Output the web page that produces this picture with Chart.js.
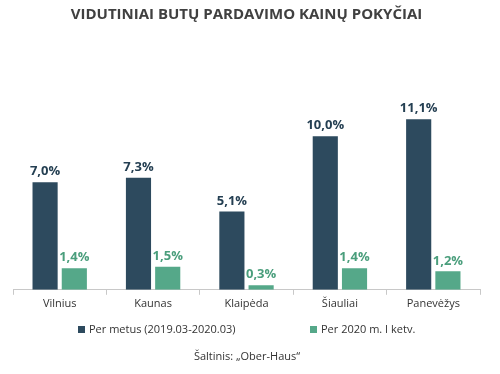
<!DOCTYPE html>
<html><head><meta charset="utf-8">
<script src="https://cdn.jsdelivr.net/npm/chart.js@4/dist/chart.umd.min.js"></script>
<style>html,body{margin:0;padding:0;background:#fff}#w{width:500px;height:374px}</style>
</head><body><div id="w"><canvas id="c" width="500" height="374"></canvas></div>
<script>
const categories = ["Vilnius", "Kaunas", "Klaipėda", "Šiauliai", "Panevėžys"];
const perMetus = [7.0, 7.3, 5.1, 10.0, 11.1];
const per2020 = [1.4, 1.5, 0.3, 1.4, 1.2];
const seriesNames = ["Per metus (2019.03-2020.03)", "Per 2020 m. I ketv."];
const titleText = "VIDUTINIAI BUTŲ PARDAVIMO KAINŲ POKYČIAI";
const sourceText = "Šaltinis: „Ober-Haus“";

const FONT = "'Open Sans', 'Noto Sans', sans-serif";
const barColors = ["#2d4a5e", "#55a889"];
const labelColors = ["#243f52", "#4a9e7c"];

const labelPlugin = {
  id: 'vlabels',
  afterDatasetsDraw(chart) {
    const ctx = chart.ctx;
    ctx.save();
    ctx.font = "bold 13px " + FONT;
    ctx.textAlign = 'center';
    ctx.textBaseline = 'bottom';
    chart.data.datasets.forEach((ds, i) => {
      const meta = chart.getDatasetMeta(i);
      ctx.fillStyle = labelColors[i];
      meta.data.forEach((bar, j) => {
        const txt = ds.data[j].toFixed(1).replace('.', ',') + '%';
        ctx.fillText(txt, bar.x, bar.y - 4);
      });
    });
    ctx.restore();
  }
};

const footerPlugin = {
  id: 'footerLegend',
  afterDraw(chart) {
    const ctx = chart.ctx;
    ctx.save();
    ctx.font = "11px " + FONT;
    ctx.textBaseline = 'middle';
    ctx.textAlign = 'left';
    const xs = [78, 310];
    chart.data.datasets.forEach((ds, i) => {
      ctx.fillStyle = ds.backgroundColor;
      ctx.fillRect(xs[i], 326, 7, 7);
      ctx.fillStyle = '#333';
      ctx.fillText(ds.label, xs[i] + 11, 330);
    });
    ctx.textAlign = 'center';
    ctx.fillText(sourceText, 247, 357);
    ctx.restore();
  }
};

new Chart(document.getElementById('c'), {
  type: 'bar',
  data: {
    labels: categories,
    datasets: [
      { label: seriesNames[0], data: perMetus, backgroundColor: barColors[0], categoryPercentage: 0.626, barPercentage: 0.86 },
      { label: seriesNames[1], data: per2020, backgroundColor: barColors[1], categoryPercentage: 0.626, barPercentage: 0.86 }
    ]
  },
  plugins: [labelPlugin, footerPlugin],
  options: {
    responsive: false,
    animation: false,
    layout: { padding: { left: 13, right: 20, top: 0, bottom: 62 } },
    scales: {
      x: {
        grid: { display: true, offset: true, drawOnChartArea: false, drawTicks: true, tickLength: 5, color: '#c8c8c8' },
        border: { display: true, color: '#c8c8c8' },
        ticks: { color: '#333', font: { family: FONT, size: 11 }, padding: 2 }
      },
      y: { display: false, min: 0, max: 16 }
    },
    plugins: {
      title: { display: true, text: titleText, color: '#404040', font: { family: FONT, size: 15, weight: 'bold' }, padding: { top: 6, bottom: 20 } },
      legend: { display: false },
      tooltip: { enabled: false }
    }
  }
});
</script></body></html>
